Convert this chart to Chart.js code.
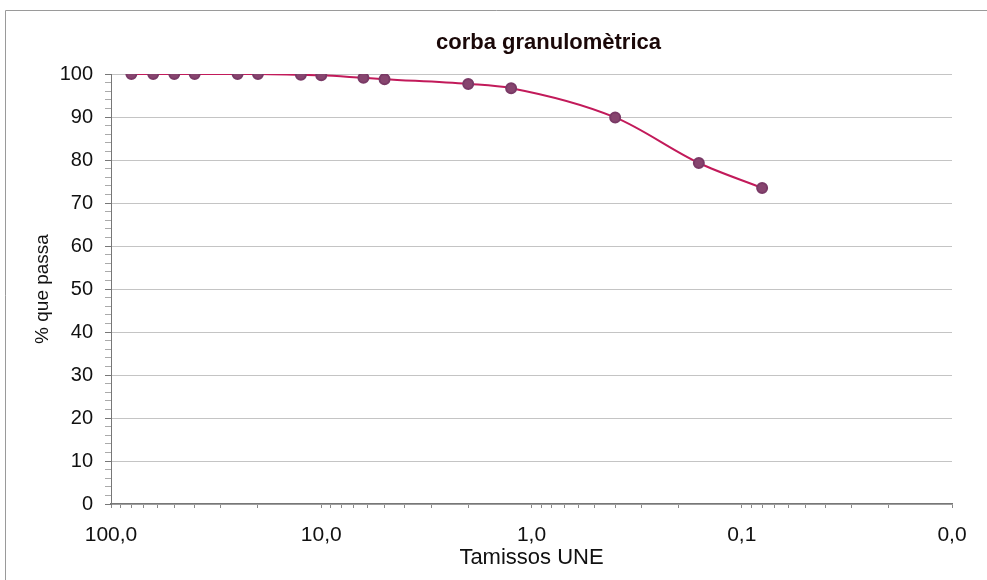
<!DOCTYPE html>
<html>
<head>
<meta charset="utf-8">
<script src="https://cdn.jsdelivr.net/npm/chart.js@4.4.0/dist/chart.umd.min.js"></script>
<style>
  body { margin: 0; background: #fff; }
</style>
</head>
<body>
<canvas id="chartData" width="987" height="580"></canvas>
<script>
// mida del tamís (mm) i % que passa
let sieves = [80, 63, 50, 40, 25, 20, 12.5, 10, 6.3, 5, 2, 1.25, 0.4, 0.16, 0.08];
let passing = [100, 100, 100, 100, 100, 100, 99.8, 99.7, 99.1, 98.8, 97.7, 96.7, 89.9, 79.3, 73.5];
let xMajorTicks = [100, 10, 1, 0.1, 0.01];
let chartTitle = 'corba granulomètrica';

let points = sieves.map((s, i) => ({ x: s, y: passing[i] }));

// marc i títol
const decor = {
    id: 'decor',
    beforeDraw(chart) {
        const c = chart.ctx;
        c.save();
        c.strokeStyle = '#9a9a9a';
        c.lineWidth = 1;
        c.beginPath();
        c.moveTo(5.5, 580);
        c.lineTo(5.5, 10.5);
        c.lineTo(987, 10.5);
        c.stroke();
        c.fillStyle = '#1a0808';
        c.font = 'bold 22px "Liberation Sans"';
        c.textAlign = 'center';
        c.textBaseline = 'middle';
        let a = chart.chartArea;
        c.fillText(chartTitle, (a.left + a.right) / 2 + 17, 43);
        c.restore();
    }
};

const ctx = document.getElementById('chartData').getContext('2d');
let myChart = new Chart(ctx, {
    type: 'line',
    data: {
        datasets: [{
            data: points,
            borderColor: '#c21a5a',
            borderWidth: 2,
            backgroundColor: '#87456f',
            pointBackgroundColor: '#87456f',
            pointBorderColor: '#7a3a66',
            pointRadius: 5,
            tension: 0.4,
            cubicInterpolationMode: 'monotone',
            fill: false
        }]
    },
    options: {
        responsive: false,
        animation: false,
        layout: { padding: { left: 0, right: 35, top: 74, bottom: 0 } },
        plugins: {
            legend: { display: false },
            tooltip: { enabled: false },
            title: { display: false }
        },
        scales: {
            x: {
                type: 'logarithmic',
                reverse: true,
                min: 0.01,
                max: 100,
                afterFit: s => { s.height = 76; },
                afterBuildTicks: s => {
                    let t = [];
                    for (let e = -2; e < 2; e++) {
                        for (let m = 1; m < 10; m++) t.push({ value: m * Math.pow(10, e) });
                    }
                    t.push({ value: 100 });
                    s.ticks = t;
                },
                grid: {
                    drawOnChartArea: false,
                    drawTicks: true,
                    tickLength: 4,
                    color: '#888'
                },
                border: { color: '#777', width: 1.5 },
                ticks: {
                    autoSkip: false,
                    maxRotation: 0,
                    padding: 15,
                    color: '#111',
                    font: { family: 'Liberation Sans', size: 21 },
                    callback: function (v) {
                        if (xMajorTicks.some(m => Math.abs(m - v) / m < 1e-6)) {
                            return v.toFixed(1).replace('.', ',');
                        }
                        return '';
                    }
                },
                title: {
                    display: true,
                    text: 'Tamissos UNE',
                    color: '#111',
                    font: { family: 'Liberation Sans', size: 22 },
                    padding: { top: 0, bottom: 9 }
                }
            },
            y: {
                min: 0,
                max: 100,
                afterFit: s => { s.width = 111; },
                ticks: {
                    stepSize: 2,
                    autoSkip: false,
                    padding: 12,
                    color: '#111',
                    font: { family: 'Liberation Sans', size: 20 },
                    callback: v => (v % 10 === 0 ? v : '')
                },
                grid: {
                    color: c => (c.tick && c.tick.value % 10 === 0 ? '#c4c4c4' : 'rgba(0,0,0,0)'),
                    tickColor: c => (c.tick && c.tick.value % 10 === 0 ? '#777' : '#aaa'),
                    tickLength: 6
                },
                border: { color: '#777', width: 1 },
                title: {
                    display: true,
                    text: '% que passa',
                    color: '#111',
                    font: { family: 'Liberation Sans', size: 19 },
                    padding: { top: 31, bottom: 0 }
                }
            }
        }
    },
    plugins: [decor]
});
</script>
</body>
</html>
